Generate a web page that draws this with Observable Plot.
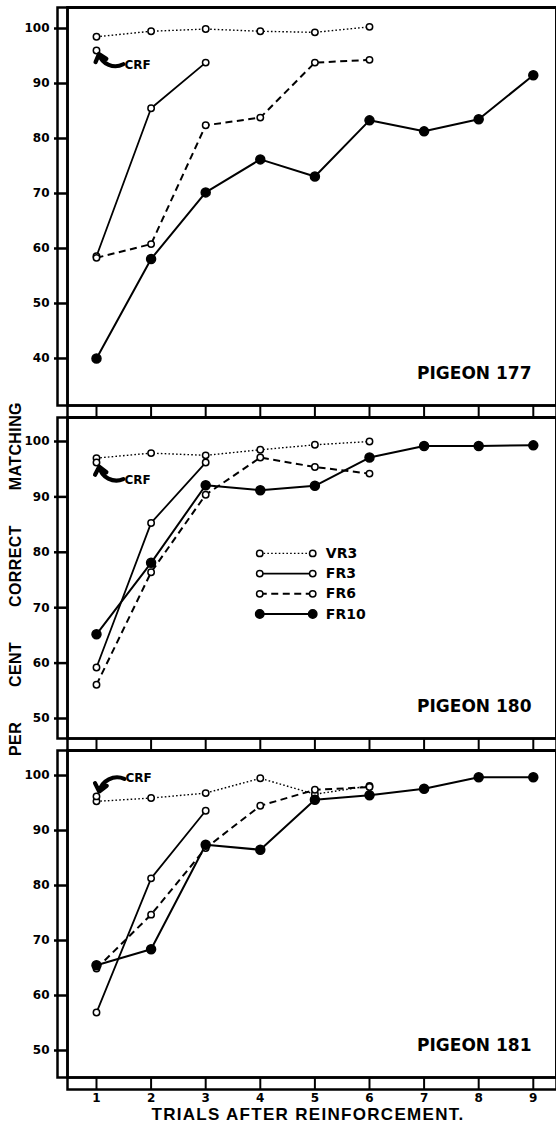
<!DOCTYPE html>
<html>
<head>
<meta charset="utf-8">
<script src="https://cdn.jsdelivr.net/npm/d3@7"></script>
<script src="https://cdn.jsdelivr.net/npm/@observablehq/plot@0.6"></script>
<style>
  html, body { margin: 0; padding: 0; background: #fff; }
  body { width: 556px; height: 1124px; overflow: hidden; position: relative; }
  #chart svg { display: block; background: none !important; }
  #ylabel { position: absolute; left: 16px; top: 579px; transform: translate(-50%, -50%) rotate(-90deg);
    font: bold 16px "Liberation Sans", Arial, sans-serif; white-space: pre; color: #000; letter-spacing: 0.4px; word-spacing: 30px; line-height: 18px; }
  #xlabel { position: absolute; left: 308px; top: 1107px; transform: translateX(-50%);
    font: bold 17px "Liberation Sans", Arial, sans-serif; line-height: 15px; letter-spacing: 1.3px; white-space: pre; color: #000; }
</style>
</head>
<body>
<div id="chart"></div>
<div id="ylabel">PER CENT CORRECT MATCHING</div>
<div id="xlabel">TRIALS AFTER REINFORCEMENT.</div>
<script>
// ---------- data ----------
const TRIALS = [1, 2, 3, 4, 5, 6, 7, 8, 9];
const SERIES = ["VR3", "FR3", "FR6", "FR10"];
const PIGEONS = ["PIGEON 177", "PIGEON 180", "PIGEON 181"];

const VR3_177  = [98.5, 99.5, 99.9, 99.5, 99.3, 100.3];
const FR3_177  = [58.6, 85.5, 93.8];
const FR6_177  = [58.3, 60.8, 82.4, 83.8, 93.8, 94.3];
const FR10_177 = [40.0, 58.1, 70.2, 76.2, 73.1, 83.3, 81.3, 83.5, 91.5];

const VR3_180  = [97.0, 97.9, 97.5, 98.5, 99.4, 100.0];
const FR3_180  = [59.2, 85.3, 96.2];
const FR6_180  = [56.1, 76.4, 90.4, 97.1, 95.4, 94.2];
const FR10_180 = [65.2, 78.1, 92.1, 91.2, 92.0, 97.1, 99.2, 99.2, 99.3];

const VR3_181  = [95.3, 95.9, 96.8, 99.5, 96.6, 98.1];
const FR3_181  = [56.9, 81.3, 93.6];
const FR6_181  = [64.9, 74.7, 86.8, 94.5, 97.4, 97.9];
const FR10_181 = [65.5, 68.4, 87.4, 86.5, 95.6, 96.4, 97.6, 99.7, 99.7];

const CRF = [96.0, 96.2, 96.2];   // CRF value at trial 1 per pigeon

const Y_TICKS_177 = [40, 50, 60, 70, 80, 90, 100];
const Y_TICKS_18X = [50, 60, 70, 80, 90, 100];

// ---------- layout ----------
const X_DOMAIN = [0.469, 9.425];
const panels = [
  {name: PIGEONS[0], data: [VR3_177, FR3_177, FR6_177, FR10_177], crf: CRF[0], yTicks: Y_TICKS_177,
   yDomain: [31.45, 103.82], mt: 7, plotH: 398, mb: 14, labels: false,
   crfText: [1.513, 93.3], crfArrow: [1.49, 93.5, 1.045, 95.35, 50]},
  {name: PIGEONS[1], data: [VR3_180, FR3_180, FR6_180, FR10_180], crf: CRF[1], yTicks: Y_TICKS_18X,
   yDomain: [46.39, 104.33], mt: 2, plotH: 321, mb: 14, labels: false, legend: true,
   crfText: [1.513, 93.1], crfArrow: [1.49, 93.2, 1.05, 95.45, 50]},
  {name: PIGEONS[2], data: [VR3_181, FR3_181, FR6_181, FR10_181], crf: CRF[2], yTicks: Y_TICKS_18X,
   yDomain: [45.09, 104.55], mt: 2, plotH: 327, mb: 30, labels: true,
   crfText: [1.53, 99.5], crfArrow: [1.51, 99.4, 1.05, 97.1, -50]}
];

const STYLE = {
  VR3:  {dash: "1.6,2.2", width: 1.4, filled: false},
  FR3:  {dash: null,      width: 1.8, filled: false},
  FR6:  {dash: "7,4.5",   width: 2.0, filled: false},
  FR10: {dash: null,      width: 2.0, filled: true}
};
const LEGEND = {x1: 3.99, x2: 4.96, xText: 5.2, yTop: 79.8, step: 3.65};

function rowsOf(values, series) {
  return values.map((v, i) => ({trial: TRIALS[i], value: v, series}));
}

function makePanel(p) {
  const marks = [];
  marks.push(Plot.frame({stroke: "black", strokeWidth: 2.5}));
  marks.push(Plot.frame({stroke: "black", strokeWidth: 2.5, insetLeft: -10}));
  marks.push(Plot.frame({stroke: "black", strokeWidth: 2.5, insetBottom: -12}));
  marks.push(Plot.axisY({ticks: p.yTicks, tickSize: 13, tickPadding: 5, strokeWidth: 2.5, label: null,
    fontSize: 12, fontWeight: "bold", tickFormat: d => String(d)}));
  marks.push(Plot.axisX({ticks: TRIALS, tickSize: 12, tickPadding: 4, strokeWidth: 2, label: null,
    fontSize: 12, fontWeight: "bold", tickFormat: p.labels ? (d => String(d)) : (() => "")}));

  SERIES.forEach((s, k) => {
    const st = STYLE[s];
    marks.push(Plot.line(rowsOf(p.data[k], s), {x: "trial", y: "value", stroke: "black",
      strokeWidth: st.width, strokeDasharray: st.dash, strokeLinecap: "butt"}));
  });
  SERIES.forEach((s, k) => {
    const st = STYLE[s];
    marks.push(Plot.dot(rowsOf(p.data[k], s), {x: "trial", y: "value",
      r: st.filled ? 4.5 : 3.2, fill: st.filled ? "black" : "white", stroke: "black", strokeWidth: 1.5}));
  });
  marks.push(Plot.dot([{trial: TRIALS[0], value: p.crf}], {x: "trial", y: "value", r: 3.2, fill: "white", stroke: "black", strokeWidth: 1.5}));
  const a = p.crfArrow;
  marks.push(Plot.arrow([0], {x1: () => a[0], y1: () => a[1], x2: () => a[2], y2: () => a[3], bend: a[4],
    stroke: "black", strokeWidth: 4.2, headLength: 4.5, headAngle: 80}));
  marks.push(Plot.text(["CRF"], {x: () => p.crfText[0], y: () => p.crfText[1], text: d => d, textAnchor: "start",
    fontSize: 12, fontWeight: "bold", fontFamily: "DejaVu Sans", fill: "black"}));

  marks.push(Plot.text([p.name], {text: d => d, frameAnchor: "bottom-right", lineAnchor: "middle", textAnchor: "end",
    dx: -25, dy: -32, fontSize: 17, fontWeight: "bold", fontFamily: "DejaVu Sans", fill: "black"}));

  if (p.legend) {
    const lrows = SERIES.map((s, i) => ({series: s, y: LEGEND.yTop - i * LEGEND.step}));
    lrows.forEach(r => {
      const st = STYLE[r.series];
      marks.push(Plot.link([r], {x1: () => LEGEND.x1, x2: () => LEGEND.x2, y1: "y", y2: "y", stroke: "black",
        strokeWidth: st.width, strokeDasharray: st.dash}));
      marks.push(Plot.dot([LEGEND.x1, LEGEND.x2], {x: d => d, y: () => r.y, r: st.filled ? 4.2 : 3.2,
        fill: st.filled ? "black" : "white", stroke: "black", strokeWidth: 1.5}));
    });
    marks.push(Plot.text(lrows, {x: () => LEGEND.xText, y: "y", text: "series", textAnchor: "start",
      fontSize: 14, fontWeight: "bold", fontFamily: "DejaVu Sans", fill: "black"}));
  }

  return Plot.plot({
    width: 556,
    height: p.mt + p.plotH + p.mb,
    marginLeft: 67, marginRight: 0, marginTop: p.mt, marginBottom: p.mb,
    x: {type: "linear", domain: X_DOMAIN},
    y: {type: "linear", domain: p.yDomain},
    style: {fontFamily: "DejaVu Sans", fontSize: "12px", fontWeight: "bold", color: "black", background: "none", overflow: "visible"},
    marks
  });
}

const chart = document.getElementById("chart");
panels.forEach((p, i) => {
  const svg = makePanel(p);
  if (i > 0) svg.style.marginTop = "-4px";
  chart.appendChild(svg);
});
</script>
</body>
</html>
